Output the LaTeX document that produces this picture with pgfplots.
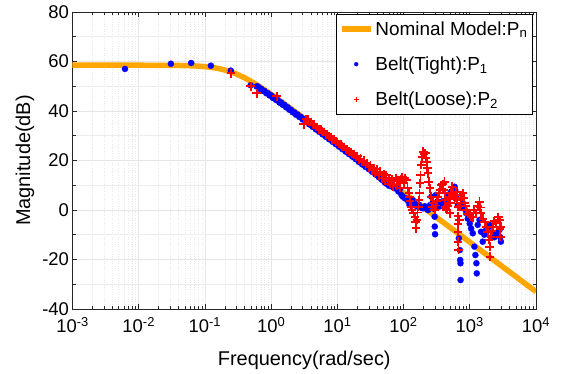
\documentclass[border=0pt]{standalone}
\usepackage{fontspec}
\setmainfont{Liberation Sans}
\usepackage{pgfplots}
\pgfplotsset{compat=1.18}
\definecolor{morange}{rgb}{1,0.65,0}
\begin{document}
\begin{tikzpicture}
\begin{axis}[name=ax, at={(0,0)}, scale only axis, width=463.5bp, height=297bp,
  xmode=log, xmin=1e-3, xmax=1e4, ymin=-40, ymax=80,
  ytick={-40,-20,...,80}, minor y tick num=1,
  xtick={1e-3,1e-2,1e-1,1,1e1,1e2,1e3,1e4},
  xticklabels={10\textsuperscript{-3},10\textsuperscript{-2},10\textsuperscript{-1},10\textsuperscript{0},10\textsuperscript{1},10\textsuperscript{2},10\textsuperscript{3},10\textsuperscript{4}},
  grid=both,
  major grid style={black!10, line width=0.8bp},
  minor x grid style={black!9, dotted, line width=0.6bp},
  minor y grid style={black!7, line width=0.8bp},
  tick align=inside, major tick length=5bp, minor tick length=3.5bp,
  axis line style={line width=0.8bp, black!85},
  every tick/.style={black!85, line width=0.6bp},
  tick label style={font=\fontsize{18.5}{20}\selectfont},
  xticklabel style={yshift=-5bp},
  /pgf/number format/assume math mode=true,
  xlabel={Frequency(rad/sec)}, ylabel={Magnitude(dB)},
  label style={font=\fontsize{20}{22}\selectfont},
  xlabel style={at={(axis description cs:0.5,-0.172)}, anchor=center},
  ylabel style={at={(axis description cs:-0.1025,0.5)}, anchor=center},
  legend style={at={(0.993,0.993)}, anchor=north east, draw=black, line width=0.6bp, fill=white,
    font=\fontsize{19}{21}\selectfont, inner xsep=3bp, inner ysep=5bp, row sep=16bp, cells={anchor=west}},
  legend image code/.code={\draw[mark repeat=2,mark phase=2,#1] plot coordinates {(0bp,0bp) (14.5bp,0bp) (29bp,0bp)};},
]
\addplot[morange, line width=5.5bp] coordinates {
(0.001,58.50) (0.01,58.49) (0.03,58.45) (0.05,58.35) (0.07,58.21) (0.1,57.93) (0.13,57.57) (0.16,57.16)
(0.2,56.55) (0.25,55.75) (0.3,54.94) (0.4,53.37) (0.5,51.94) (0.6,50.66) (0.8,48.48) (1,46.70)
(1.5,43.34) (2,40.90) (3,37.42) (5,33.01) (10,27.00) (100,7.00) (1000,-13.00) (10000,-33.00)};
\addlegendentry{Nominal Model:P\textsubscript{n}}
\addplot[only marks, mark=*, mark size=3.1bp, color=blue, mark options={draw=blue, fill=blue, line width=0.2bp},
  legend image post style={mark size=2bp}] coordinates {
(0.0062,57.0) (0.0306,59.1) (0.062,59.4) (0.123,58.3) (0.246,56.3) (0.49,50.4)
(0.603,49.9) (0.631,49.9) (0.668,49.0) (0.708,49.0) (0.750,48.1) (0.794,48.1) (0.841,47.2) (0.891,47.2)
(0.944,46.3) (1.000,46.3) (1.059,45.3) (1.122,45.4) (1.189,44.4) (1.259,44.4) (1.334,43.4) (1.413,43.5)
(1.496,42.5) (1.585,42.5) (1.679,41.5) (1.778,41.5) (1.884,40.5) (1.995,40.5) (2.113,39.5) (2.239,39.5)
(2.371,38.5) (2.512,38.6) (2.661,37.6) (2.818,37.6) (2.985,36.6) (3.162,36.6) (3.350,35.6) (3.548,35.6)
(3.758,34.6) (3.981,34.6) (4.217,33.6) (4.467,33.6) (4.732,32.6) (5.012,32.6) (5.309,31.6) (5.623,31.6)
(5.957,30.6) (6.310,30.6) (6.683,29.6) (7.079,29.6) (7.499,28.6) (7.943,28.6) (8.414,27.6) (8.913,27.6)
(9.441,26.6) (10.0,26.6) (10.59,25.6) (11.22,25.6) (11.89,24.6) (12.59,24.6) (13.34,23.6) (14.13,23.6)
(14.96,22.6) (15.85,22.6) (16.79,21.6) (17.78,21.6) (18.84,20.6) (19.95,20.6) (21.13,19.4) (22.39,19.5)
(23.71,18.4) (25.12,18.4) (26.61,17.4) (28.18,17.4) (29.85,16.5) (31.62,16.3) (33.5,15.4) (35.48,15.3)
(37.58,14.4) (39.81,14.1) (42.17,13.3) (44.67,12.9) (47.32,12.1) (50.12,11.8)
(52.5,11.0) (56.2,10.5) (60.3,9.8) (63.1,10.6) (67.6,9.4) (72.4,8.8) (77.6,9.4) (83.2,7.5) (87.1,8.1)
(93.3,6.0) (97.7,5.4) (104.7,4.7) (109.6,4.7) (117.5,3.5) (123,2.0) (131.8,3.0) (138,4.0) (148,2.5)
(158.5,1.5) (170,2.2) (182,1.0) (195,0.7) (209,1.5) (224,0.5) (234,0) (251,2.0) (263,5.4) (275,3.0)
(288,0.5) (295,-2.7) (296,-6.7) (299,-9.8) (309,6.1) (324,3.5) (347,1.4) (363,2.5) (389,3.5) (417,3.0)
(437,4.0) (468,5.5) (501,6.5) (525,7.5) (562,8.5) (589,9.4) (603,8.0) (631,5.0) (661,2.0) (684,-11.4)
(700,1.4) (708,-16.2) (716,-20.2) (724,-21.5) (726,-28.3) (741,1.0) (785,2.7) (832,0.5) (883,-1.3)
(933,-3.5) (1000,-5.5) (1047,-7.5) (1109,-9.4) (1175,-14.8) (1216,-18.2) (1259,-21.5) (1274,-25.6)
(1318,-6.0) (1400,-4.0) (1479,-8.8) (1570,-12.8) (1660,-10.0) (1766,-8.1) (1862,-7.0) (1995,-6.0)
(2089,-6.7) (2239,-9.5) (2344,-11.0) (2512,-10.0) (2630,-9.0) (2818,-8.0) (2884,-11.0) (2951,-12.8)};
\addlegendentry{Belt(Tight):P\textsubscript{1}}
\addplot[only marks, mark=+, mark size=4.3bp, color=red, line width=1.9bp,
  legend image post style={mark size=2.6bp, line width=1.3bp}] coordinates {
(0.246,55.2) (0.49,50.0) (0.607,47.1) (1.21,45.9) (3.1,34.6)
(3.35,36.6) (3.548,36.5) (3.758,35.6) (3.981,35.5) (4.217,34.6) (4.467,34.5) (4.732,33.6) (5.012,33.5)
(5.309,32.6) (5.623,32.5) (5.957,31.6) (6.31,31.5) (6.683,30.6) (7.079,30.5) (7.499,29.6) (7.943,29.5)
(8.414,28.6) (8.913,28.5) (9.441,27.6) (10,27.5) (10.59,26.6) (11.22,26.5) (11.89,25.6) (12.59,25.5)
(13.34,24.6) (14.13,24.5) (14.96,23.6) (15.85,23.5) (16.79,22.6) (17.78,22.5) (18.84,21.6) (19.95,21.8)
(21.13,20.4) (22.39,20.8) (23.71,19.4) (25.12,19.9) (26.61,18.3) (28.18,18.9) (29.85,17.2) (31.62,18.0)
(33.5,16.0) (35.48,17.0) (37.58,15.0) (39.81,16.5) (42.17,14.0) (44.67,15.5) (47.32,12.8) (50.12,14.5)
(52.5,12.0) (55,14.0) (57.5,11.5) (60.3,13.0) (63.1,10.5) (66.1,12.5) (69.2,9.5) (72.4,11.5) (75.9,13.0)
(79.4,10.0) (83.2,11.8) (87.1,9.0) (91.2,12.5) (95.5,13.4) (100,11.0) (104.7,13.0) (109.6,12.1) (114.8,9.0)
(120.2,7.0) (123,5.4) (125.9,3.5) (130.3,1.3) (134.9,0.0) (141.3,-1.3) (147.9,-3.0) (151.4,-5.0) (154.9,-7.4)
(158.5,-4.0) (162.2,-1.0) (168.3,1.3) (171,4.0) (173.8,6.7) (177.8,10.8) (179.9,14.1) (184.9,18.2) (190.5,21.5)
(199.5,23.6) (204.2,22.5) (213.8,22.9) (218.8,21.0) (223.9,19.5) (229.1,17.0) (232.3,14.8) (239.9,11.4)
(251.2,8.8) (263,5.4) (269.2,1.3) (281.8,3.0) (295.1,0) (305,1.8) (316.2,3.5) (331.1,5.4) (342,7.0) (354.8,8.0) (371.5,10.1)
(389,10.5) (398.1,8.1) (415,11.4) (420,7.0) (423,4.0) (426.6,1.3) (435,0.5) (446.7,0) (457,1.5) (467.7,3.0) (478,4.5) (489.8,5.4) (501,-1.3)
(507,3.0) (513,7.0) (537,9.4) (562,7.0) (589,5.0) (616.6,7.4) (640,4.0) (660.7,1.3) (662,-2.5) (664,-5.5) (660.7,-8.8)
(668,-12.8) (676,-16.2) (692,-4.0) (710,1.5) (725,4.0) (741,6.1) (785,6.7) (810,5.0) (832,3.0) (860,1.5) (883,0) (933,-1.5) (1000,-2.0)
(1047,-2.7) (1122,-3.0) (1175,0.0) (1259,-1.3) (1318,1.5) (1400,3.4) (1440,1.0) (1479,-1.3) (1585,-3.5) (1680,-5.0)
(1778,-6.7) (1862,-9.0) (1950,-12.0) (1995,-14.8) (2018,-18.9) (2089,-10.8) (2160,-8.5) (2239,-6.7) (2344,-4.5)
(2512,-5.4) (2692,-3.0) (2818,-4.0) (2850,-7.5) (2884,-10.8) (2951,-6.7)};
\addlegendentry{Belt(Loose):P\textsubscript{2}}
\end{axis}
\pgfresetboundingbox
\path[use as bounding box] ([shift={(-72.5bp,-65bp)}]ax.south west) rectangle ([shift={(25bp,12bp)}]ax.north east);
\end{tikzpicture}
\end{document}
